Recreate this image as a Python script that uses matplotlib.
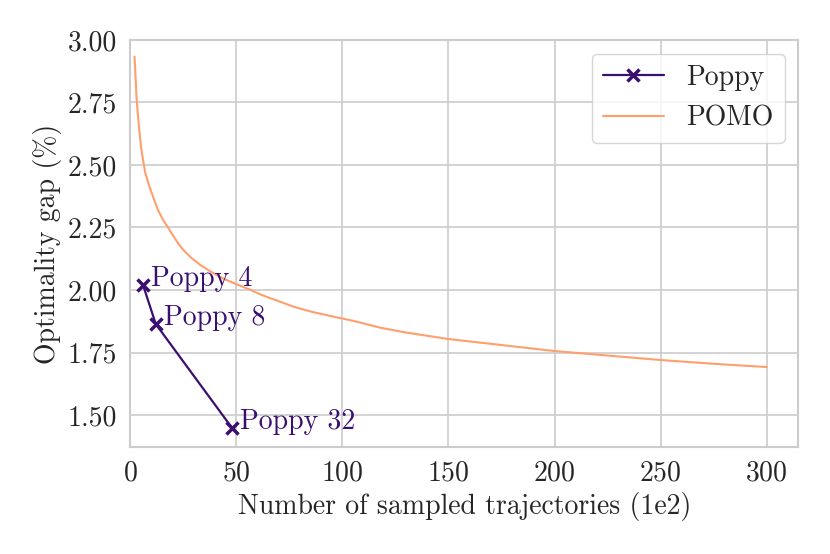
import matplotlib
matplotlib.use("Agg")
import matplotlib.pyplot as plt
import seaborn as sns

# Values
poppy_x = [6, 12, 48]
poppy_y = [2.02, 1.864, 1.448]
poppy_labels = ["Poppy 4", "Poppy 8", "Poppy 32"]

pomo_x = [2, 3, 4, 5, 6, 7, 8.5, 10, 11.5, 13, 15.5, 18, 20, 22.5, 25, 29,
          33, 38, 44, 51, 56, 62, 70, 77, 86, 96, 105, 118, 130, 150, 175,
          200, 225, 250, 275, 300]
pomo_y = [2.933, 2.76, 2.66, 2.575, 2.52, 2.47, 2.427, 2.39, 2.355, 2.32,
          2.28, 2.247, 2.22, 2.187, 2.16, 2.127, 2.10, 2.073, 2.045, 2.02,
          2.003, 1.98, 1.955, 1.933, 1.912, 1.893, 1.877, 1.849, 1.83, 1.804,
          1.78, 1.756, 1.738, 1.72, 1.705, 1.692]

c_poppy = "#3b0f70"
c_pomo = "#fe9f6d"
fs = 20

sns.set_theme(style="whitegrid")
plt.rcParams["font.family"] = "serif"
plt.rcParams["font.serif"] = ["cmr10"]
plt.rcParams["axes.formatter.use_mathtext"] = True
plt.rcParams["mathtext.fontset"] = "cm"

fig, ax = plt.subplots(figsize=(8.3, 5.54), dpi=100)
fig.subplots_adjust(left=0.157, right=0.962, top=0.928, bottom=0.193)

ax.plot(poppy_x, poppy_y, color=c_poppy, marker="x", markersize=8,
        markeredgewidth=2.5, lw=1.6, label="Poppy")
ax.plot(pomo_x, pomo_y, color=c_pomo, lw=1.5, label="POMO")

for x, y, t in zip(poppy_x, poppy_y, poppy_labels):
    ax.annotate(t, (x, y), xytext=(6, -1), textcoords="offset points",
                color=c_poppy, fontsize=fs, va="baseline")

ax.set_xlim(0, 315)
ax.set_ylim(1.372, 3.0)
ax.set_xticks([0, 50, 100, 150, 200, 250, 300])
ax.set_yticks([1.5, 1.75, 2.0, 2.25, 2.5, 2.75, 3.0])
ax.yaxis.set_major_formatter(matplotlib.ticker.FormatStrFormatter("%.2f"))
ax.tick_params(labelsize=fs, colors="#262626")
ax.set_xlabel("Number of sampled trajectories (1e2)", fontsize=fs)
ax.set_ylabel("Optimality gap (%)", fontsize=fs)
for s in ax.spines.values():
    s.set_color("#cccccc")
    s.set_linewidth(1.5)
ax.grid(color="#cccccc", lw=1.2)

ax.legend(loc="upper right", fontsize=fs, handlelength=2.2, framealpha=0.8,
          edgecolor="#cccccc")

fig.savefig("out.png")
